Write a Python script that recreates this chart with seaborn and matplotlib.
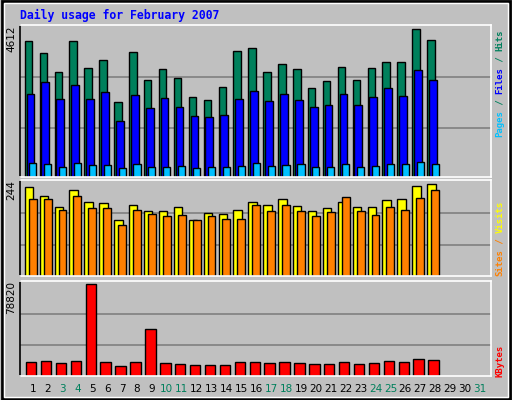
import matplotlib
matplotlib.use("Agg")
import matplotlib.pyplot as plt
import numpy as np
import seaborn as sns

days = np.arange(1, 29)
all_days = np.arange(1, 32)
weekend_days = [3, 4, 10, 11, 17, 18, 24, 25, 31]

hits = [4236, 3860, 3266, 4236, 3391, 3641, 2327, 3891, 3015, 3360, 3078, 2483, 2389, 2796,
        3923, 4017, 3266, 3516, 3360, 2765, 2984, 3422, 3015, 3391, 3579, 3579, 4612, 4268]
files = [2576, 2952, 2430, 2858, 2430, 2639, 1731, 2545, 2138, 2451, 2169, 1888, 1857, 1919,
         2430, 2670, 2357, 2576, 2388, 2169, 2232, 2576, 2232, 2482, 2764, 2514, 3327, 3014]
pages = [417, 386, 292, 417, 355, 355, 261, 386, 292, 292, 323, 261, 292, 292,
         323, 417, 323, 355, 386, 292, 292, 386, 292, 323, 386, 386, 448, 386]
visits = [236, 212, 183, 228, 196, 194, 149, 188, 172, 172, 183, 149, 167, 164,
          175, 196, 188, 204, 186, 172, 180, 196, 183, 183, 202, 204, 239, 244]
sites = [204, 204, 175, 212, 180, 180, 135, 175, 164, 159, 162, 149, 159, 151,
         151, 188, 172, 188, 172, 159, 170, 210, 172, 162, 183, 175, 207, 228]
kbytes = [11508, 12371, 10645, 12371, 78820, 11508, 8056, 11508, 39990, 10645, 9782, 8919, 8919, 8919,
          11508, 11508, 10645, 11508, 10645, 9782, 9782, 11508, 9782, 10645, 12371, 11508, 14097, 13234]

BG = "#C0C0C0"
MONO = "DejaVu Sans Mono"

sns.set_style("white")
fig = plt.figure(figsize=(5.12, 4.0), dpi=100, facecolor=BG)


def panel(top_px, base_px, ymax):
    ax = fig.add_axes([20 / 512, 1 - base_px / 400, 471 / 512, (base_px - top_px) / 400])
    ax.set_facecolor(BG)
    ax.set_xlim(0.15, 31.75)
    ax.set_ylim(0, ymax)
    for frac in (0.32, 0.655):
        ax.axhline(ymax * frac, color="#808080", lw=1.2, zorder=0)
    ax.set_xticks([])
    ax.set_yticks([])
    ax.set_xlabel("")
    ax.set_ylabel("")
    for side, col in (("left", "black"), ("top", "white"), ("right", "white"), ("bottom", "white")):
        ax.spines[side].set_color(col)
        ax.spines[side].set_linewidth(1.2)
    return ax


def bars(ax, offset, values, width, color):
    sns.barplot(x=days + offset, y=values, native_scale=True, width=width, color=color,
                edgecolor="black", linewidth=1, saturation=1, ax=ax, zorder=2)


ax1 = panel(25, 176.7, 4746)
bars(ax1, -0.28, hits, 0.5, "#00805C")
bars(ax1, -0.15, files, 0.52, "#0000FF")
bars(ax1, 0.0, pages, 0.48, "#00C0FF")

ax2 = panel(180, 276.3, 255)
bars(ax2, -0.25, visits, 0.56, "#FFFF00")
bars(ax2, 0.0, sites, 0.53, "#FF8000")

ax3 = panel(281, 375.7, 81707)
bars(ax3, -0.1, kbytes, 0.7, "#FF0000")

for ax in (ax1, ax2, ax3):
    ax.set_xlim(0.15, 31.75)
    ax.set_xlabel("")
    ax.set_ylabel("")
    ax.set_xticks([])

# left max labels
for ax, txt in ((ax1, "4612"), (ax2, "244"), (ax3, "78820")):
    ax.text(-0.008, 0.995, txt, transform=ax.transAxes, rotation=90, ha="right", va="top",
            fontsize=7.5, family="DejaVu Sans", color="black")

# day labels
for d in all_days:
    x = 20 + (d - 0.15) * 471 / 31.6
    fig.text(x / 512, 1 - 389 / 400, str(d), ha="center", va="center", fontsize=7.5,
             color="#00805C" if d in weekend_days else "black")

# title
fig.text(20 / 512, 1 - 15 / 400, "Daily usage for February 2007", ha="left", va="center",
         fontsize=8.3, family=MONO, weight="bold", color="#0000FF")


# right side legends, drawn bottom to top
def side_label(parts, bottom_px):
    char_px = 5.35
    y = bottom_px
    for txt, col in parts:
        fig.text(500 / 512, 1 - y / 400, txt, rotation=90, ha="center", va="bottom",
                 fontsize=6.5, family=MONO, weight="bold", color=col)
        y -= char_px * len(txt)


side_label([("Pages", "#00C0FF"), (" / ", "#00805C"), ("Files", "#0000FF"),
            (" / ", "#00805C"), ("Hits", "#00805C")], 137)
side_label([("Sites", "#FF8000"), (" / ", "#FF8000"), ("Visits", "#FFFF00")], 276)
side_label([("KBytes", "#FF0000")], 377)

# outer frame
fig.patches.append(plt.Rectangle((0.003, 0.003), 0.994, 0.994, transform=fig.transFigure,
                                 fill=False, edgecolor="black", lw=2))
fig.patches.append(plt.Rectangle((0.007, 0.008), 0.986, 0.985, transform=fig.transFigure,
                                 fill=False, edgecolor="white", lw=1))

fig.savefig("out.png", dpi=100, facecolor=BG)
